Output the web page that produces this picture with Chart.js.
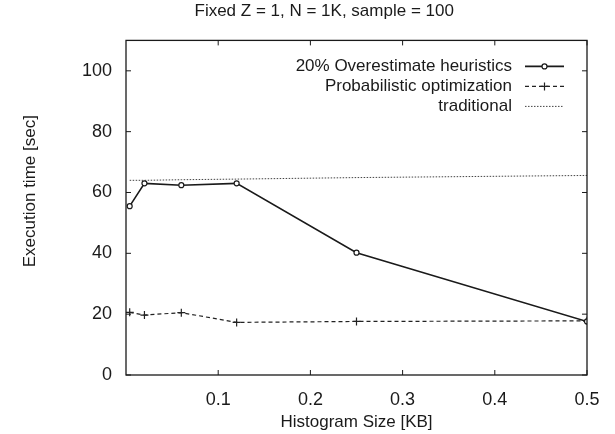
<!DOCTYPE html>
<html>
<head>
<meta charset="utf-8">
<script src="https://cdn.jsdelivr.net/npm/chart.js@4/dist/chart.umd.min.js"></script>
<style>
  html, body { margin: 0; padding: 0; background: #fff; }
  #c { display: block; }
</style>
</head>
<body>
<canvas id="c" width="615" height="434"></canvas>
<script>
// ---- data ----
const histogramSizes = [0.004, 0.02, 0.06, 0.12, 0.25, 0.5];
const overestimate = [55.5, 63.0, 62.4, 63.0, 40.2, 17.6];
const probabilistic = [20.6, 19.7, 20.5, 17.3, 17.6, 17.8];
const traditional = [64.0, 64.0, 64.2, 64.4, 64.9, 65.6];
const xTickValues = [0.1, 0.2, 0.3, 0.4, 0.5];
const yTickValues = [0, 20, 40, 60, 80, 100];
const seriesLabels = ['20% Overestimate heuristics', 'Probabilistic optimization', 'traditional'];
const chartTitle = 'Fixed Z = 1, N = 1K, sample = 100';
const xTitle = 'Histogram Size [KB]';
const yTitle = 'Execution time [sec]';

const FONT = "'Liberation Sans', Arial, Helvetica, sans-serif";
const INK = '#1a1a1a';
const NB = '\u00A0';

function pts(ys) { return histogramSizes.map((x, i) => ({ x: x, y: ys[i] })); }

// frame + inward ticks (gnuplot style)
const framePlugin = {
  id: 'frame',
  afterDraw(chart) {
    const { ctx, chartArea: a, scales } = chart;
    ctx.save();
    ctx.strokeStyle = INK;
    ctx.lineWidth = 1.3;
    ctx.strokeRect(a.left, a.top, a.right - a.left, a.bottom - a.top);
    ctx.lineWidth = 1;
    const L = 5;
    yTickValues.forEach(v => {
      const y = scales.y.getPixelForValue(v);
      ctx.beginPath();
      ctx.moveTo(a.left, y); ctx.lineTo(a.left + L, y);
      ctx.moveTo(a.right, y); ctx.lineTo(a.right - L, y);
      ctx.stroke();
    });
    xTickValues.forEach(v => {
      const x = scales.x.getPixelForValue(v);
      ctx.beginPath();
      ctx.moveTo(x, a.bottom); ctx.lineTo(x, a.bottom - L);
      ctx.moveTo(x, a.top); ctx.lineTo(x, a.top + L);
      ctx.stroke();
    });
    ctx.restore();
  }
};

// legend inside the plot, right-aligned text with line samples to the right
const legendPlugin = {
  id: 'insideLegend',
  afterDraw(chart) {
    const { ctx, chartArea: a } = chart;
    ctx.save();
    ctx.font = '17px ' + FONT;
    ctx.fillStyle = INK;
    ctx.textAlign = 'right';
    ctx.textBaseline = 'middle';
    const textRight = a.right - 75;
    const s0 = a.right - 62, s1 = a.right - 23;
    chart.data.datasets.forEach((ds, i) => {
      const y = a.top + 26 + i * 20;
      ctx.fillText(ds.label, textRight, y);
      ctx.beginPath();
      ctx.strokeStyle = ds.borderColor;
      ctx.lineWidth = ds.borderWidth;
      ctx.setLineDash(ds.borderDash || []);
      ctx.moveTo(s0, y); ctx.lineTo(s1, y);
      ctx.stroke();
      ctx.setLineDash([]);
      const mx = (s0 + s1) / 2;
      if (ds.pointStyle === 'circle' && ds.pointRadius > 0) {
        ctx.beginPath();
        ctx.arc(mx, y, ds.pointRadius, 0, Math.PI * 2);
        ctx.fillStyle = '#fff';
        ctx.fill();
        ctx.lineWidth = ds.pointBorderWidth;
        ctx.strokeStyle = ds.borderColor;
        ctx.stroke();
        ctx.fillStyle = INK;
      } else if (ds.pointStyle === 'cross' && ds.pointRadius > 0) {
        ctx.beginPath();
        ctx.lineWidth = ds.pointBorderWidth;
        ctx.moveTo(mx - ds.pointRadius, y); ctx.lineTo(mx + ds.pointRadius, y);
        ctx.moveTo(mx, y - ds.pointRadius); ctx.lineTo(mx, y + ds.pointRadius);
        ctx.stroke();
      }
    });
    ctx.restore();
  }
};

new Chart(document.getElementById('c'), {
  type: 'line',
  data: {
    datasets: [
      {
        label: seriesLabels[0],
        data: pts(overestimate),
        borderColor: INK,
        borderWidth: 1.6,
        pointStyle: 'circle',
        pointRadius: 2.5,
        pointBorderWidth: 1.2,
        pointBackgroundColor: '#fff',
        pointBorderColor: INK,
        tension: 0
      },
      {
        label: seriesLabels[1],
        data: pts(probabilistic),
        borderColor: '#222',
        borderWidth: 1.2,
        borderDash: [4, 3],
        pointStyle: 'cross',
        pointRadius: 4,
        pointBorderWidth: 1.2,
        pointBorderColor: '#222',
        tension: 0
      },
      {
        label: seriesLabels[2],
        data: pts(traditional),
        borderColor: '#444',
        borderWidth: 1,
        borderDash: [1.5, 1.5],
        pointRadius: 0,
        pointStyle: 'none',
        tension: 0
      }
    ]
  },
  options: {
    responsive: false,
    devicePixelRatio: 1,
    animation: false,
    events: [],
    layout: { padding: { left: 0, right: 28, top: 0, bottom: 0 } },
    plugins: {
      legend: { display: false },
      tooltip: { enabled: false },
      title: {
        display: true,
        text: NB.repeat(13) + chartTitle,
        color: INK,
        font: { family: FONT, size: 17, weight: 'normal' },
        padding: { top: 1, bottom: 19 }
      }
    },
    scales: {
      x: {
        type: 'linear',
        min: 0,
        max: 0.5,
        border: { display: false },
        grid: { display: false, drawTicks: false },
        afterBuildTicks(scale) { scale.ticks = xTickValues.map(v => ({ value: v })); },
        afterFit(scale) { scale.height = 59; },
        ticks: {
          color: INK,
          padding: 14,
          maxRotation: 0,
          font: { family: FONT, size: 18 },
          callback: v => String(v)
        },
        title: {
          display: true,
          text: xTitle,
          color: INK,
          font: { family: FONT, size: 17 },
          padding: { top: 0, bottom: 1 }
        }
      },
      y: {
        type: 'linear',
        min: 0,
        max: 110,
        border: { display: false },
        grid: { display: false, drawTicks: false },
        afterBuildTicks(scale) { scale.ticks = yTickValues.map(v => ({ value: v })); },
        afterFit(scale) { scale.width = 126; },
        ticks: {
          color: INK,
          padding: 14,
          font: { family: FONT, size: 18 },
          callback: v => String(v)
        },
        title: {
          display: true,
          text: NB.repeat(7) + yTitle,
          color: INK,
          font: { family: FONT, size: 17 },
          padding: { top: 20, bottom: 0 }
        }
      }
    }
  },
  plugins: [framePlugin, legendPlugin]
});
</script>
</body>
</html>
